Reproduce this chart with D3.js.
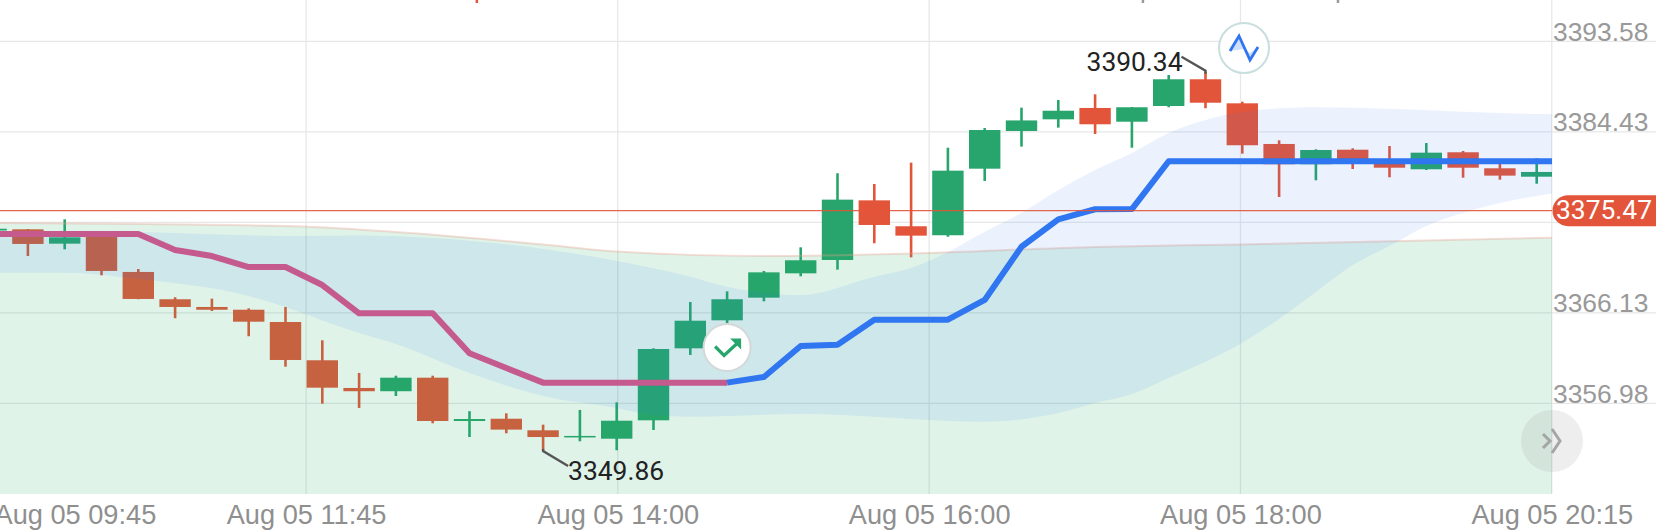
<!DOCTYPE html>
<html><head><meta charset="utf-8">
<script src="https://cdn.jsdelivr.net/npm/d3@7/dist/d3.min.js"></script>
<style>
html,body{margin:0;padding:0;background:#fff;overflow:hidden}
svg{display:block;font-family:Roboto,sans-serif}
</style></head><body>
<svg id="c" width="1656" height="530"></svg>
<script>
// Candle data, first candle is index -1
const opens =[3374.45,3374.57,3373.12,3374.20,3370.26,3367.50,3366.72,3366.44,3365.20,3361.33,3358.53,3358.20,3359.57,3355.19,3355.42,3354.25,3353.54,3353.40,3355.26,3362.54,3365.37,3367.66,3370.12,3371.47,3377.50,3374.88,3373.97,3380.70,3384.51,3385.69,3386.84,3385.45,3387.04,3389.74,3387.31,3383.20,3381.15,3382.62,3381.58,3380.64,3382.36,3380.74,3379.89];
const closes=[3374.63,3373.09,3373.76,3370.36,3367.53,3366.72,3366.44,3365.23,3361.36,3358.56,3358.20,3359.57,3355.19,3355.39,3354.32,3353.57,3353.68,3355.22,3362.47,3365.33,3367.50,3370.22,3371.44,3377.57,3375.01,3373.93,3380.50,3384.61,3385.58,3386.56,3385.19,3386.91,3389.74,3387.37,3383.07,3381.15,3382.59,3381.25,3380.80,3382.32,3380.80,3380.00,3380.37];
const highs =[3374.66,3374.60,3375.58,3374.40,3370.56,3367.70,3367.56,3366.58,3366.72,3363.35,3360.05,3359.77,3359.77,3356.18,3355.97,3354.82,3356.31,3357.08,3362.54,3367.22,3368.30,3370.36,3372.75,3380.24,3379.15,3381.31,3382.82,3384.81,3386.87,3387.65,3388.22,3386.94,3390.17,3390.51,3387.47,3383.57,3382.66,3382.76,3382.99,3383.30,3382.49,3381.28,3381.76];
const lows  =[3374.42,3371.87,3372.55,3369.92,3367.50,3365.58,3366.31,3363.76,3360.68,3356.94,3356.51,3357.72,3354.96,3353.57,3353.95,3352.26,3353.14,3352.23,3354.28,3361.87,3365.07,3367.29,3369.82,3370.49,3373.16,3371.74,3373.82,3379.46,3382.93,3384.85,3384.21,3382.82,3386.91,3386.81,3382.22,3377.84,3379.53,3380.67,3379.83,3380.57,3379.79,3379.59,3379.18];

// Trend line: falling part, then rising part
const pinkIdx =[-1,3,4,5,6,7,8,9,11,12,13,14,19];
const pinkVals=[3374.10,3374.10,3372.48,3371.87,3370.76,3370.76,3368.94,3366.08,3366.08,3362.04,3360.55,3359.07,3359.07];
const blueIdx =[19,20,21,22,23,25,26,27,28,29,30,31,42];
const blueVals=[3359.07,3359.64,3362.77,3362.91,3365.43,3365.43,3367.43,3372.81,3375.58,3376.60,3376.62,3381.45,3381.45];

// Cloud edges
const greenTopIdx =[-1,7,10,14,16,20,24,29,33,41,42];
const greenTopVals=[3375.21,3374.91,3374.30,3373.04,3372.33,3371.87,3372.13,3372.79,3373.04,3373.69,3373.75];
const blueTopIdx =[-1,3,7,9,11,14,16,18,19,21,23,24,25,26,27,28,29,30,31,32,33,35,37,41,42];
const blueTopVals=[3374.40,3374.30,3373.90,3373.95,3373.69,3372.58,3371.37,3369.78,3368.77,3367.93,3369.78,3370.66,3372.28,3374.33,3376.25,3378.55,3380.57,3382.29,3384.31,3385.62,3386.46,3386.91,3386.77,3386.23,3386.20];
const blueBotIdx =[-1,1,3,6,7,8,9,10,12,14,16,17,18,21,26,28,29,30,31,33,34,35,36,37,38,39,40,41,42];
const blueBotVals=[3370.19,3370.19,3369.55,3367.83,3366.72,3365.36,3364.09,3362.98,3360.05,3357.72,3356.51,3355.80,3355.63,3355.90,3355.12,3356.00,3357.01,3357.92,3359.54,3363.11,3365.50,3368.23,3370.96,3372.88,3374.91,3376.22,3377.23,3377.94,3378.55];

// Axes
const priceTicks=[3393.58,3384.43,3375.28,3366.13,3356.98];
const priceLabels=["3393.58","3384.43","","3366.13","3356.98"];
const timeTicks=[-0.92,7.56,16.03,24.49,32.95,41.41];
const timeLabels=["Aug 05 09:45","Aug 05 11:45","Aug 05 14:00","Aug 05 16:00","Aug 05 18:00","Aug 05 20:15"];

// Annotated values
const lastPrice="3375.47", lastPriceLevel=3376.46;
const maxLabel="3390.34", maxIdx=32;
const minLabel="3349.86", minIdx=14;

const W=1656,H=530,plotR=1552,plotB=494;
const svg=d3.select("#c");
const x=d3.scaleLinear().domain([0,41]).range([27.9,1536.7]);
const y=d3.scaleLinear().domain([3393.58,3356.98]).range([41.3,403.3]);

svg.append("defs").append("clipPath").attr("id","plot").append("rect").attr("x",0).attr("y",0).attr("width",plotR).attr("height",plotB);

// grid
const gridC="#e6e8e8";
const grid=svg.append("g");
grid.selectAll("line.h").data(priceTicks).join("line").attr("class","h")
   .attr("x1",0).attr("x2",W).attr("y1",d=>y(d)).attr("y2",d=>y(d)).attr("stroke",gridC).attr("stroke-width",1.3);
grid.selectAll("line.v").data(timeTicks).join("line").attr("class","v")
   .attr("x1",d=>x(d)).attr("x2",d=>x(d)).attr("y1",0).attr("y2",plotB).attr("stroke",gridC).attr("stroke-width",1.3);

const plot=svg.append("g").attr("clip-path","url(#plot)");

// candles
const green="#27a56c", red="#e3553a";
const cg=plot.append("g");
const cd=opens.map((o,i)=>({i:i-1,o,c:closes[i],h:highs[i],l:lows[i]}));
cg.selectAll("line").data(cd).join("line")
  .attr("x1",d=>x(d.i)).attr("x2",d=>x(d.i)).attr("y1",d=>y(d.h)).attr("y2",d=>y(d.l))
  .attr("stroke",d=>d.c>=d.o?green:red).attr("stroke-width",2.6);
cg.selectAll("rect").data(cd).join("rect")
  .attr("x",d=>x(d.i)-15.7).attr("width",31.4)
  .attr("y",d=>y(Math.max(d.o,d.c))).attr("height",d=>Math.max(1.5,Math.abs(y(d.o)-y(d.c))))
  .attr("fill",d=>d.c>=d.o?green:red);

// clouds, drawn over the candles
const zipPts=(xs,vs)=>xs.map((v,k)=>[v,vs[k]]);
const curve=d3.curveMonotoneX;
const pairs=zipPts(greenTopIdx,greenTopVals);
plot.append("path").attr("d",d3.area().x(d=>x(d[0])).y0(plotB).y1(d=>y(d[1])).curve(curve)(pairs))
  .attr("fill","rgb(42,172,110)").attr("fill-opacity",.15);
plot.append("path").attr("d",d3.line().x(d=>x(d[0])).y(d=>y(d[1])).curve(curve)(pairs))
  .attr("fill","none").attr("stroke","#e8a090").attr("stroke-opacity",.35).attr("stroke-width",2);
const cloudTop=d3.line().x(d=>x(d[0])).y(d=>y(d[1])).curve(curve)(zipPts(blueTopIdx,blueTopVals));
const cloudBot=d3.line().x(d=>x(d[0])).y(d=>y(d[1])).curve(curve)(zipPts(blueBotIdx,blueBotVals).reverse());
plot.append("path").attr("d",cloudTop+"L"+cloudBot.slice(1)+"Z")
  .attr("fill","rgb(40,120,240)").attr("fill-opacity",.095);

// last price line
svg.append("line").attr("x1",0).attr("x2",plotR).attr("y1",y(lastPriceLevel)).attr("y2",y(lastPriceLevel))
  .attr("stroke",red).attr("stroke-width",1.3).attr("stroke-opacity",.9);

// trend
const tl=d3.line().x(d=>x(d[0])).y(d=>y(d[1])).curve(d3.curveLinear);
plot.append("path").attr("d",tl(zipPts(pinkIdx,pinkVals))).attr("fill","none").attr("stroke","#c45a8e").attr("stroke-width",6).attr("stroke-linejoin","round");
plot.append("path").attr("d",tl(zipPts(blueIdx,blueVals))).attr("fill","none").attr("stroke","#2f76f0").attr("stroke-width",6).attr("stroke-linejoin","round");

// y axis
const ya=svg.append("g").attr("transform",`translate(${plotR},0)`)
  .call(d3.axisRight(y).tickValues(priceTicks).tickSize(0).tickPadding(1).tickFormat((d,i)=>priceLabels[i]));
ya.select(".domain").remove();
ya.selectAll("text").attr("fill","#999").attr("font-size",26.4).attr("dy",0).attr("y",-8).attr("dominant-baseline","middle");

// x axis
const xa=svg.append("g").attr("transform",`translate(0,${plotB})`)
  .call(d3.axisBottom(x).tickValues(timeTicks).tickSize(0).tickPadding(0).tickFormat((d,i)=>timeLabels[i]));
xa.select(".domain").remove();
xa.selectAll("text").attr("fill","#8f8f8f").attr("font-size",27.2).attr("y",23).attr("dy",0).attr("dominant-baseline","middle")
  .attr("text-anchor",(d,i)=>i===0?"start":"middle").attr("x",(d,i)=>i===0?-x(d)-6:0);

// price pill
const pillY=y(lastPriceLevel);
svg.append("rect").attr("x",plotR+.5).attr("y",pillY-15.5).attr("width",W-plotR+16).attr("height",31).attr("rx",15.5).attr("fill",red);
svg.append("text").attr("x",1604).attr("y",pillY+1).attr("text-anchor","middle").attr("dominant-baseline","middle")
  .attr("fill","#fff").attr("font-size",26.4).text(lastPrice);

// max / min annotations
const hx=x(maxIdx), hy=y(highs[maxIdx+1]);
svg.append("path").attr("d",d3.line()([[hx-24,hy-15],[hx,hy-1],[hx,hy+2]])).attr("fill","none").attr("stroke","#555").attr("stroke-width",2.4);
svg.append("text").attr("x",hx-23).attr("y",64).attr("text-anchor","end").attr("dominant-baseline","middle").attr("fill","#222").attr("font-size",26.4).text(maxLabel);
const lx=x(minIdx), ly=y(lows[minIdx+1]);
svg.append("path").attr("d",d3.line()([[lx,ly-1],[lx,ly+1],[lx+25,ly+16]])).attr("fill","none").attr("stroke","#555").attr("stroke-width",2.4);
svg.append("text").attr("x",lx+25).attr("y",473).attr("text-anchor","start").attr("dominant-baseline","middle").attr("fill","#222").attr("font-size",26.4).text(minLabel);

// markers
const m1=svg.append("g").attr("transform",`translate(${x(19)},347.5)`);
m1.append("circle").attr("r",23.5).attr("fill","#fff").attr("stroke","#d4d8d8").attr("stroke-width",2);
m1.append("path").attr("d","M-12,-1 L-3,8 L11,-5").attr("fill","none").attr("stroke",green).attr("stroke-width",3.2);
m1.append("path").attr("d","M3,-9 L14,-9 L14,2 Z").attr("fill",green);
const m2=svg.append("g").attr("transform","translate(1244,48)");
m2.append("circle").attr("r",25).attr("fill","#fff").attr("stroke","#c9dede").attr("stroke-width",2);
m2.append("path").attr("d","M-14,3 L-5,-12 L6,12 L14,-1 L6,5 L0,1Z").attr("fill","#cfe0fb");
m2.append("path").attr("d","M-14,3 L-5,-12 L6,12 L14,-1").attr("fill","none").attr("stroke","#2f76f0").attr("stroke-width",2.8);
const m3=svg.append("g").attr("transform","translate(1552,441)");
m3.append("ellipse").attr("rx",31).attr("ry",31).attr("fill","#999").attr("fill-opacity",.17);
m3.append("path").attr("d","M-9,-7 L-2,0 L-9,7 M0,-12 L8,0 L0,12").attr("fill","none").attr("stroke","#a5a5a5").attr("stroke-width",3);

// wick tips of clipped candles at the top edge
const topTipIdx=[12.2,30.3,35.6];
const topTipColors=[red,"#999","#999"];
svg.append("g").selectAll("line").data(topTipIdx).join("line")
  .attr("x1",d=>x(d)).attr("x2",d=>x(d)).attr("y1",0).attr("y2",3)
  .attr("stroke",(d,i)=>topTipColors[i]).attr("stroke-width",2.5);
</script>
</body></html>
